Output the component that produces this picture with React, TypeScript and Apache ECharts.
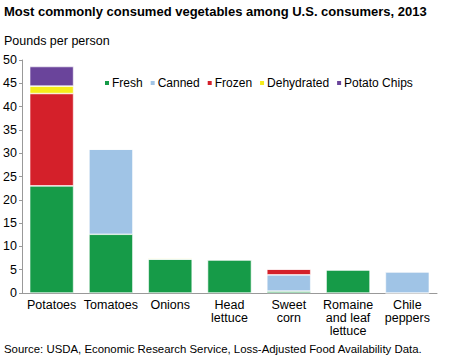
import React, { useEffect, useRef } from "react";
import * as echarts from "echarts";

const categories = ["Potatoes", "Tomatoes", "Onions", "Head\nlettuce", "Sweet\ncorn", "Romaine\nand leaf\nlettuce", "Chile\npeppers"];
const fresh = [23.0, 12.6, 7.3, 7.15, 0.4, 5.0, 0];
const canned = [0, 18.3, 0, 0, 3.5, 0, 4.57];
const frozen = [19.8, 0, 0, 0, 1.25, 0, 0];
const dehydrated = [1.6, 0, 0.2, 0, 0, 0, 0];
const potatoChips = [4.2, 0, 0, 0, 0, 0, 0];
const yTicks = [0, 5, 10, 15, 20, 25, 30, 35, 40, 45, 50];

const seriesDefs = [
  { name: "Fresh", data: fresh, color: "#169b48" },
  { name: "Canned", data: canned, color: "#a0c4e6" },
  { name: "Frozen", data: frozen, color: "#d4202a" },
  { name: "Dehydrated", data: dehydrated, color: "#f5ec1a" },
  { name: "Potato Chips", data: potatoChips, color: "#6a449b" },
];

const FONT = "'Liberation Sans', Arial, Helvetica, sans-serif";

export default function App() {
  const ref = useRef<HTMLDivElement>(null);
  useEffect(() => {
    if (!ref.current) return;
    const chart = echarts.init(ref.current, undefined, { renderer: "svg" });
    chart.setOption({
      animation: false,
      textStyle: { fontFamily: FONT },
      graphic: [
        {
          type: "text",
          left: 4,
          top: 5,
          style: { text: "Most commonly consumed vegetables among U.S. consumers, 2013", font: `bold 13px ${FONT}`, fill: "#000" },
        },
        {
          type: "text",
          left: 4,
          top: 34,
          style: { text: "Pounds per person", font: `12.5px ${FONT}`, fill: "#000" },
        },
        {
          type: "text",
          left: 4,
          top: 343,
          style: { text: "Source: USDA, Economic Research Service, Loss-Adjusted Food Availability Data.", font: `11.4px ${FONT}`, fill: "#000" },
        },
      ],
      legend: {
        left: 103,
        top: 77,
        padding: 0,
        icon: "rect",
        itemWidth: 6,
        itemHeight: 6,
        itemGap: 6,
        textStyle: { fontSize: 12, color: "#000", fontFamily: FONT, padding: [0, 0, 0, -3] },
        data: seriesDefs.map((s) => s.name),
      },
      grid: { left: 22, right: 13, top: 60, bottom: 67, containLabel: false },
      xAxis: {
        type: "category",
        data: categories,
        axisLine: { lineStyle: { color: "#999" } },
        axisTick: { show: false },
        axisLabel: { color: "#000", fontSize: 12.5, lineHeight: 13, interval: 0, margin: 5, fontFamily: FONT },
      },
      yAxis: {
        type: "value",
        min: 0,
        max: 50,
        interval: 5,
        axisLine: { show: true, lineStyle: { color: "#999" } },
        axisTick: { show: true, length: 3, lineStyle: { color: "#999" } },
        splitLine: { show: false },
        axisLabel: { color: "#000", fontSize: 12.5, margin: 5, fontFamily: FONT, formatter: (v: number) => (yTicks.includes(v) ? String(v) : "") },
      },
      series: seriesDefs.map((s) => ({
        name: s.name,
        type: "bar",
        stack: "total",
        barWidth: "74%",
        data: s.data,
        itemStyle: { color: s.color, borderColor: "#ffffff", borderWidth: 0.6 },
      })),
    });
    return () => chart.dispose();
  }, []);
  return <div ref={ref} style={{ width: 450, height: 360, position: "absolute", left: 0, top: 0 }} />;
}
